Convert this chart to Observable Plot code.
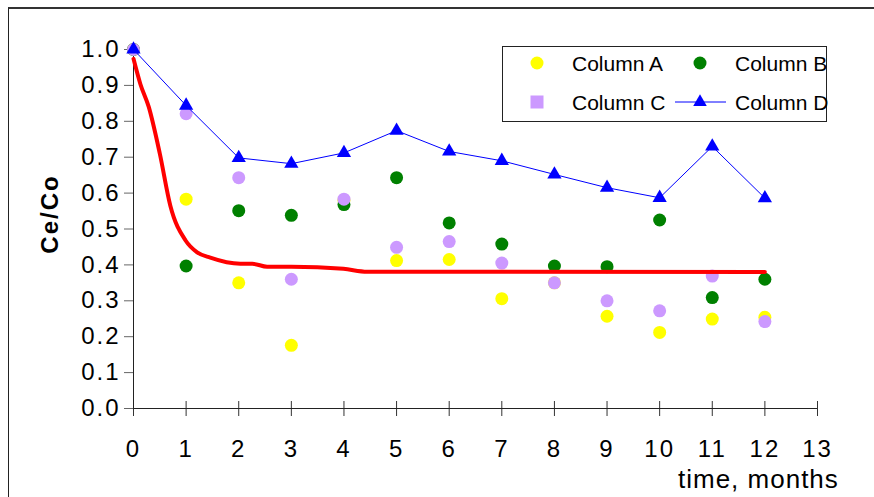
<!DOCTYPE html>
<html><head><meta charset="utf-8">
<script src="https://cdn.jsdelivr.net/npm/d3@7"></script>
<script src="https://cdn.jsdelivr.net/npm/@observablehq/plot@0.6"></script>
<style>
body{margin:0;background:#fff;overflow:hidden}
#wrap{position:relative;width:874px;height:497px;overflow:hidden;font-family:"Liberation Sans",Arial,sans-serif;background:#fff}
#frame{position:absolute;left:8px;top:7px;width:900px;height:600px;border-left:1.5px solid #222;border-top:2px solid #333}
#chart{position:absolute;left:0;top:0}
#chart text{letter-spacing:2px}
#legend{position:absolute;left:502px;top:46px}
</style></head>
<body><div id="wrap"><div id="frame"></div><div id="chart"></div><div id="legend"></div></div>
<script>
const months = [0,1,2,3,4,5,6,7,8,9,10,11,12];
const colA = [1.0, 0.583, 0.35, 0.176, 0.58, 0.412, 0.415, 0.306, 0.35, 0.257, 0.212, 0.249, 0.254];
const colB = [1.0, 0.397, 0.551, 0.538, 0.568, 0.643, 0.517, 0.458, 0.397, 0.395, 0.525, 0.309, 0.36];
const colC = [1.0, 0.821, 0.643, 0.36, 0.583, 0.449, 0.465, 0.405, 0.35, 0.30, 0.272, 0.369, 0.242];
const colD = [1.0, 0.844, 0.698, 0.682, 0.712, 0.774, 0.716, 0.69, 0.652, 0.615, 0.587, 0.73, 0.586];
const fitX = [0, 0.13, 0.29, 0.5, 0.7, 0.99, 1.21, 1.46, 2.03, 2.26, 2.54, 3, 3.99, 4.44, 12];
const fitY = [0.974, 0.904, 0.84, 0.71, 0.565, 0.468, 0.435, 0.42, 0.403, 0.403, 0.395, 0.395, 0.389, 0.381, 0.38];
const xTicks = [0,1,2,3,4,5,6,7,8,9,10,11,12,13];
const yTicks = [0,0.1,0.2,0.3,0.4,0.5,0.6,0.7,0.8,0.9,1.0];
const seriesNames = ["Column A","Column B","Column C","Column D"];
const yLabel = "Ce/Co";
const xLabel = "time, months";

const rows = months.map((m,i)=>({m, a:colA[i], b:colB[i], c:colC[i], d:colD[i]}));
const fit = fitX.map((x,i)=>({x, y:fitY[i]}));

const chart = Plot.plot({
  width: 874, height: 497,
  marginLeft: 133, marginRight: 57, marginTop: 49, marginBottom: 89,
  style: {fontFamily: "Liberation Sans, Arial, sans-serif", background: "transparent", color: "#000"},
  x: {domain: [0, 13]},
  y: {domain: [0, 1]},
  marks: [
    Plot.axisY({ticks: yTicks, tickSize: 9, tickPadding: 4, tickFormat: d => d.toFixed(1), fontSize: 24, label: null, stroke: "#666"}),
    Plot.axisX({ticks: xTicks, tickSize: 15, dy: -7, tickFormat: () => "", label: null, stroke: "#333"}),
    Plot.axisX({ticks: xTicks, tickSize: 0, tickPadding: 31, tickFormat: d => String(d), fontSize: 24, label: null}),
    Plot.ruleX([0], {stroke: "#222"}),
    Plot.ruleY([0], {stroke: "#222"}),
    Plot.dot(rows, {x: "m", y: "a", r: 6.5, fill: "#ffff00"}),
    Plot.dot(rows, {x: "m", y: "b", r: 6.5, fill: "#008000"}),
    Plot.dot(rows, {x: "m", y: "c", r: 6.5, fill: "#cc99ff"}),
    Plot.line(rows, {x: "m", y: "d", stroke: "#0000ff", strokeWidth: 1}),
    Plot.dot(rows, {x: "m", y: "d", symbol: "triangle", r: 5.3, fill: "#0000ff"}),
    Plot.line(fit, {x: "x", y: "y", stroke: "#ff0000", strokeWidth: 4, curve: "monotone-x"})
  ]
});
document.getElementById("chart").appendChild(chart);

const svg = d3.select(chart);
svg.append("text")
  .attr("transform", "translate(49,214) rotate(-90)")
  .attr("text-anchor", "middle")
  .attr("dominant-baseline", "central")
  .attr("font-size", 24).attr("font-weight", "bold")
  .attr("font-family", "Liberation Sans, Arial, sans-serif")
  .text(yLabel);
svg.append("text")
  .attr("x", 678).attr("y", 488)
  .attr("text-anchor", "start")
  .attr("font-size", 26)
  .style("letter-spacing", "1px")
  .attr("font-family", "Liberation Sans, Arial, sans-serif")
  .text(xLabel);

// legend
const lg = d3.select("#legend").append("svg").attr("width", 326).attr("height", 77);
lg.append("rect").attr("x", 0.5).attr("y", 0.5).attr("width", 324).attr("height", 75)
  .attr("fill", "#fff").attr("stroke", "#222");
const items = [
  {name: seriesNames[0], x: 35, y: 17, kind: "circle", color: "#ffff00"},
  {name: seriesNames[1], x: 198, y: 17, kind: "circle", color: "#008000"},
  {name: seriesNames[2], x: 35, y: 56, kind: "square", color: "#cc99ff"},
  {name: seriesNames[3], x: 198, y: 56, kind: "tri", color: "#0000ff"}
];
items.forEach(it => {
  if (it.kind === "circle") lg.append("circle").attr("cx", it.x).attr("cy", it.y).attr("r", 6.5).attr("fill", it.color);
  else if (it.kind === "square") lg.append("rect").attr("x", it.x - 6.5).attr("y", it.y - 6.5).attr("width", 13).attr("height", 13).attr("fill", it.color);
  else {
    lg.append("line").attr("x1", it.x - 25).attr("x2", it.x + 26).attr("y1", it.y).attr("y2", it.y).attr("stroke", "#0000ff").attr("stroke-width", 1);
    lg.append("path").attr("transform", `translate(${it.x},${it.y})`).attr("d", d3.symbol(d3.symbolTriangle, 80)()).attr("fill", it.color);
  }
  lg.append("text").attr("x", it.x + 35).attr("y", it.y).attr("dominant-baseline", "central")
    .attr("font-size", 21).attr("font-family", "Liberation Sans, Arial, sans-serif").text(it.name);
});
</script>
</body></html>
